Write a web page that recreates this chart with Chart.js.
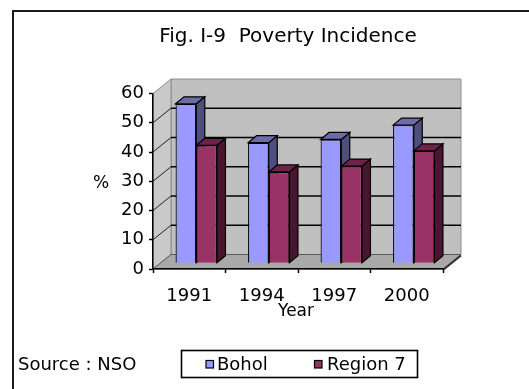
<!DOCTYPE html>
<html>
<head>
<meta charset="utf-8">
<script src="https://cdn.jsdelivr.net/npm/chart.js@4.4.1/dist/chart.umd.min.js"></script>
<style>
  html, body { margin: 0; padding: 0; background: #fff; }
  canvas { display: block; }
</style>
</head>
<body>
<canvas id="chart" width="529" height="389"></canvas>
<script>
// Poverty incidence (%) by survey year
const years = ['1991', '1994', '1997', '2000'];
const bohol = [54.5, 41.2, 42.3, 47.2];
const region7 = [40.3, 31.2, 33.2, 38.4];
const seriesNames = ['Bohol', 'Region 7'];
const yMax = 60;
const yStep = 10;

const titleText = 'Fig. I-9  Poverty Incidence';
const xTitleText = 'Year';
const yTitleText = '%';
const sourceText = 'Source : NSO';

const FONT = 'DejaVu Sans';

// oblique projection of the 3-D box
const DEPTH = { x: 18, y: -14.5 };     // front plane -> back wall
const BAR_SHIFT = { x: 7, y: -5.8 };   // front plane -> bar front faces
const BAR_DEPTH = { x: 8.5, y: -7 };   // bar front -> bar back

function poly(ctx, pts, fill, stroke, lw) {
  ctx.beginPath();
  ctx.moveTo(pts[0][0], pts[0][1]);
  for (let i = 1; i < pts.length; i++) ctx.lineTo(pts[i][0], pts[i][1]);
  ctx.closePath();
  if (fill) { ctx.fillStyle = fill; ctx.fill(); }
  if (stroke) { ctx.strokeStyle = stroke; ctx.lineWidth = lw || 1; ctx.stroke(); }
}

function line(ctx, x1, y1, x2, y2, color, lw) {
  ctx.beginPath();
  ctx.moveTo(x1, y1);
  ctx.lineTo(x2, y2);
  ctx.strokeStyle = color;
  ctx.lineWidth = lw;
  ctx.stroke();
}

const box3d = {
  id: 'box3d',
  beforeDraw(chart) {
    const ctx = chart.ctx;
    ctx.save();
    ctx.fillStyle = '#fff';
    ctx.fillRect(0, 0, chart.width, chart.height);
    // outer frame (runs past the right and bottom edges)
    ctx.strokeStyle = '#1a1a1a';
    ctx.lineWidth = 2;
    ctx.strokeRect(13, 11, chart.width + 40, chart.height + 40);
    ctx.restore();
  },
  beforeDatasetsDraw(chart) {
    const { ctx, chartArea: a, scales: { y } } = chart;
    const L = a.left, R = a.right;
    const yTop = y.getPixelForValue(y.max), y0 = y.getPixelForValue(0);
    const dx = DEPTH.x, dy = DEPTH.y;
    ctx.save();
    // back wall
    poly(ctx, [[L + dx, yTop + dy], [R + dx, yTop + dy], [R + dx, y0 + dy], [L + dx, y0 + dy]], '#c0c0c0', '#8c8c8c', 1);
    // side wall
    poly(ctx, [[L, yTop], [L + dx, yTop + dy], [L + dx, y0 + dy], [L, y0]], '#c9c9c9', '#8c8c8c', 1);
    // floor
    poly(ctx, [[L, y0], [R, y0], [R + dx, y0 + dy], [L + dx, y0 + dy]], '#a9a9a9', '#5a5a5a', 1);
    line(ctx, R, y0 + 1, R + dx, y0 + dy + 1, '#333', 2);
    // gridlines on the walls
    y.ticks.forEach(t => {
      if (t.value === 0 || t.value === y.max) return;
      const py = y.getPixelForValue(t.value);
      line(ctx, L + dx, py + dy, R + dx, py + dy, '#000', 1.6);
      line(ctx, L, py, L + dx, py + dy, '#222', 1);
    });
    ctx.restore();
  },
  // bars are painted together below, series by series, so each prism
  // overlaps the one on its left correctly
  beforeDatasetDraw() {
    return false;
  },
  afterDatasetsDraw(chart) {
    const ctx = chart.ctx;
    const bx = BAR_DEPTH.x, by = BAR_DEPTH.y;
    ctx.save();
    ctx.translate(BAR_SHIFT.x, BAR_SHIFT.y);
    const n = chart.data.labels.length;
    for (let c = 0; c < n; c++) {
      chart.data.datasets.forEach((ds, i) => {
        const bar = chart.getDatasetMeta(i).data[c];
        bar.draw(ctx);
        const { x, y, base, width } = bar.getProps(['x', 'y', 'base', 'width'], true);
        const l = x - width / 2, r = x + width / 2;
        poly(ctx, [[r, y], [r + bx, y + by], [r + bx, base + by], [r, base]], ds.sideColor, '#000', 1.2);
        poly(ctx, [[l, y], [l + bx, y + by], [r + bx, y + by], [r, y]], ds.topColor, '#000', 1.2);
      });
    }
    ctx.restore();
  },
  afterDraw(chart) {
    const ctx = chart.ctx;
    const { scales: { y } } = chart;
    ctx.save();
    ctx.fillStyle = '#000';
    ctx.textBaseline = 'middle';

    ctx.textAlign = 'center';
    ctx.font = '20px "' + FONT + '"';
    ctx.fillText(titleText, 288, 37);

    ctx.font = '17px "' + FONT + '"';
    ctx.fillText(xTitleText, 296, 312);
    ctx.fillText(yTitleText, 101, y.getPixelForValue(30) + 2);

    ctx.textAlign = 'left';
    ctx.font = '18px "' + FONT + '"';
    ctx.fillText(sourceText, 18, 365);

    // legend
    ctx.strokeStyle = '#000';
    ctx.lineWidth = 1.6;
    ctx.strokeRect(181.5, 350.5, 236, 27);
    const items = [
      { sx: 206, tx: 217 },
      { sx: 314.5, tx: 327 }
    ];
    chart.data.datasets.forEach((ds, i) => {
      const it = items[i];
      ctx.fillStyle = ds.backgroundColor;
      ctx.fillRect(it.sx, 360.5, 7.5, 7.5);
      ctx.lineWidth = 1.2;
      ctx.strokeRect(it.sx, 360.5, 7.5, 7.5);
      ctx.fillStyle = '#000';
      ctx.fillText(ds.label, it.tx, 365);
    });
    ctx.restore();
  }
};

Chart.defaults.font.family = FONT;
Chart.defaults.color = '#000';

new Chart(document.getElementById('chart'), {
  type: 'bar',
  data: {
    labels: years,
    datasets: [
      {
        label: seriesNames[0],
        data: bohol,
        backgroundColor: '#9999ff',
        sideColor: '#4f4f7e',
        topColor: '#6c6ca8',
        borderColor: '#000',
        borderWidth: 1.2,
        clip: false
      },
      {
        label: seriesNames[1],
        data: region7,
        backgroundColor: '#993366',
        sideColor: '#4a1530',
        topColor: '#6e2249',
        borderColor: '#000',
        borderWidth: 1.2,
        clip: false
      }
    ]
  },
  options: {
    responsive: false,
    animation: false,
    events: [],
    layout: { padding: { top: 93.5, right: 86, bottom: 0, left: 0 } },
    datasets: { bar: { categoryPercentage: 0.571, barPercentage: 1 } },
    plugins: { legend: { display: false }, title: { display: false }, tooltip: { enabled: false } },
    scales: {
      x: {
        ticks: { font: { size: 18 }, color: '#000', padding: 13, maxRotation: 0, z: 1 },
        grid: { drawOnChartArea: false, offset: true, tickLength: 4, tickColor: '#000', tickWidth: 1.5 },
        border: { display: true, color: '#000', width: 1.5, z: 1 },
        afterFit(s) { s.height = 389 - 269; }
      },
      y: {
        min: 0,
        max: yMax,
        ticks: { stepSize: yStep, font: { size: 18 }, color: '#000', padding: 5, z: 1 },
        grid: { drawOnChartArea: false, tickLength: 4, tickColor: '#000', tickWidth: 1.5 },
        border: { display: true, color: '#000', width: 1.5, z: 1 },
        afterFit(s) { s.width = 153; }
      }
    }
  },
  plugins: [box3d]
});
</script>
</body>
</html>
